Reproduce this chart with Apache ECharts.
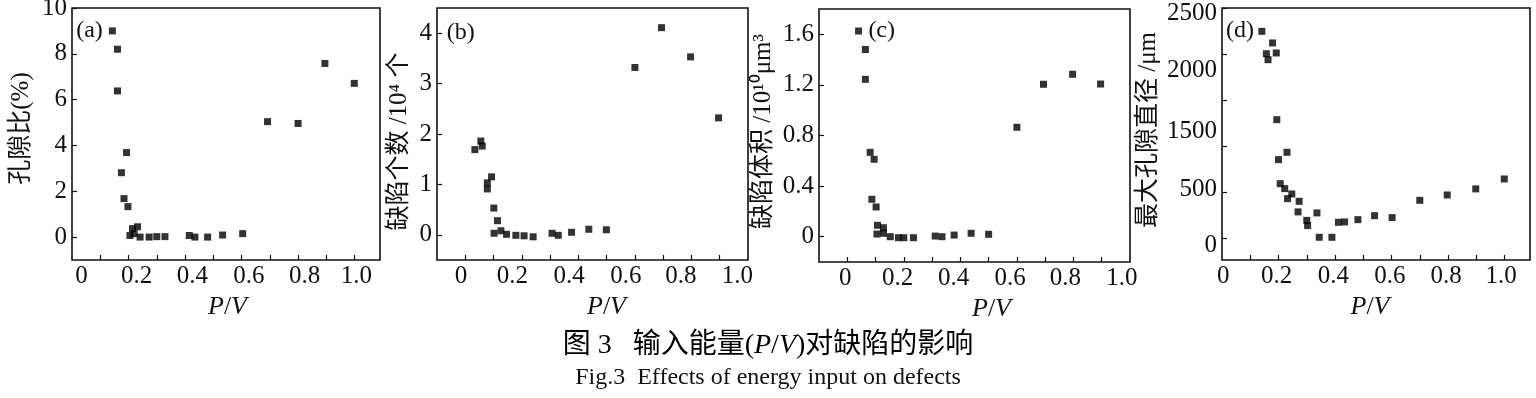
<!DOCTYPE html>
<html>
<head>
<meta charset="utf-8">
<title>Fig.3</title>
<script src="https://cdn.jsdelivr.net/npm/echarts@6/dist/echarts.min.js"></script>
<style>
html, body { margin: 0; padding: 0; background: #fff; }
#chart { width: 1536px; height: 398px; }
</style>
</head>
<body>
<div id="chart"></div>
<script>
// (a) 孔隙比
var pvA = [0.143, 0.161, 0.161, 0.193, 0.175, 0.184, 0.198, 0.205, 0.214, 0.22, 0.232, 0.241,
  0.273, 0.30, 0.329, 0.415, 0.435, 0.48, 0.533, 0.604, 0.692, 0.80, 0.895, 0.999]
var porosity = [9.0, 8.2, 6.38, 3.69, 2.81, 1.68, 1.33, 0.07, 0.37, 0.15, 0.45, 0.0,
  0.0, 0.02, 0.02, 0.07, 0.0, 0.0, 0.09, 0.15, 5.04, 4.96, 7.58, 6.71]

// (b) 缺陷个数 (10^4)
var pvB = [0.034, 0.055, 0.06, 0.078, 0.078, 0.093, 0.101, 0.114, 0.102, 0.126, 0.146, 0.179,
  0.208, 0.24, 0.307, 0.329, 0.376, 0.437, 0.499, 0.60, 0.694, 0.797, 0.896]
var defectCount = [1.69, 1.86, 1.76, 1.03, 0.91, 1.15, 0.53, 0.28, 0.03, 0.08, 0.01, -0.01,
  -0.02, -0.04, 0.03, -0.01, 0.05, 0.11, 0.10, 3.32, 4.11, 3.53, 2.32]

// (c) 缺陷体积 (10^10 um^3)
var pvC = [0.04, 0.064, 0.064, 0.081, 0.095, 0.087, 0.102, 0.107, 0.105, 0.128, 0.128, 0.152,
  0.181, 0.20, 0.234, 0.311, 0.335, 0.378, 0.438, 0.50, 0.60, 0.694, 0.797, 0.896]
var defectVolume = [1.626, 1.48, 1.244, 0.667, 0.612, 0.296, 0.235, 0.09, 0.021, 0.071, 0.027, 0.0,
  -0.008, -0.008, -0.008, 0.005, 0.0, 0.013, 0.027, 0.019, 0.865, 1.205, 1.284, 1.207]

// (d) 最大孔隙直径 (um)
var pvD = [0.141, 0.157, 0.163, 0.179, 0.192, 0.194, 0.20, 0.23, 0.206, 0.222, 0.232, 0.247, 0.273, 0.269,
  0.30, 0.303, 0.336, 0.344, 0.389, 0.412, 0.434, 0.481, 0.54, 0.602, 0.70, 0.797, 0.898, 0.999]
var maxPore = [2246, 2003, 1938, 2120, 2011, 1286, 851, 931, 590, 536, 427, 478, 398, 283,
  191, 134, 272, 7, 7, 170, 174, 199, 242, 221, 409, 467, 533, 641]

// tick labels
var xTickText = ['0', '0.2', '0.4', '0.6', '0.8', '1.0']
var yTextA = ['0', '2', '4', '6', '8', '10']
var yTextB = ['0', '1', '2', '3', '4']
var yTextC = ['0', '0.4', '0.8', '1.2', '1.6']
var yTextD = ['2500', '2000', '1500', '500', '0']

var serif = "'Liberation Serif', 'Noto Sans CJK SC', serif"
var ink = '#111'

function zip(xs, ys) {
	return xs.map(function(x, i) { return [x, ys[i]] })
}

function pick(texts, at) {
	return function(v, idx) {
		var k = at.indexOf(v)
		return texts[k >= 0 ? k : idx]
	}
}

var panels = [
	{ left: 72, width: 308, top: 8, height: 252, xMin: 0, xMax: 1.09,
	  xTicks: [0.1, 0.2, 0.3, 0.4, 0.5, 0.6, 0.7, 0.8, 0.9, 1.0],
	  xLabelAt: [0.034, 0.229, 0.426, 0.626, 0.823, 1.006], xNamePad: 3,
	  yMin: -1, yMax: 10, yTicks: [0, 2, 4, 6, 8, 10], yLabelAt: [0, 2, 4, 6, 8, 10], yText: yTextA,
	  yName: '孔隙比(%)', yNameGap: 38, yNamePad: [0, 0, 0, 11],
	  tag: '(a)', tagX: 89.5, tagY: 31, xs: pvA, ys: porosity },
	{ left: 437, width: 311, top: 8, height: 252, xMin: -0.1, xMax: 1.0,
	  xTicks: [0, 0.1, 0.2, 0.3, 0.4, 0.5, 0.6, 0.7, 0.8, 0.9],
	  xLabelAt: [-0.015, 0.167, 0.367, 0.568, 0.763, 0.962], xNamePad: 28,
	  yMin: -0.5, yMax: 4.5, yTicks: [0, 1, 2, 3, 4], yLabelAt: [0, 1, 2, 3, 4], yText: yTextB,
	  yName: '缺陷个数 /10⁴ 个', yNameGap: 25, yNamePad: [0, 15, 0, 0],
	  tag: '(b)', tagX: 460.7, tagY: 32.5, xs: pvB, ys: defectCount },
	{ left: 819, width: 311, top: 9, height: 253, xMin: -0.1, xMax: 1.0,
	  xTicks: [0, 0.1, 0.2, 0.3, 0.4, 0.5, 0.6, 0.7, 0.8, 0.9],
	  xLabelAt: [-0.007, 0.178, 0.376, 0.576, 0.771, 0.971], xNamePad: 34,
	  yMin: -0.2, yMax: 1.8, yTicks: [0, 0.4, 0.8, 1.2, 1.6], yLabelAt: [0, 0.4, 0.8, 1.2, 1.6], yText: yTextC,
	  yName: '缺陷体积 /10¹⁰μm³', yNameGap: 43, yNamePad: [0, 0, 0, 8],
	  tag: '(c)', tagX: 881.7, tagY: 31, xs: pvC, ys: defectVolume },
	{ left: 1222, width: 308, top: 8, height: 252, xMin: 0, xMax: 1.09,
	  xTicks: [0.1, 0.2, 0.3, 0.4, 0.5, 0.6, 0.7, 0.8, 0.9, 1.0],
	  xLabelAt: [0.004, 0.193, 0.394, 0.594, 0.793, 0.988], xNamePad: -12,
	  yMin: -240, yMax: 2500, yTicks: [0, 500, 1000, 1500, 2000, 2500], yLabelAt: [2442, 1818, 1155, 532, -77], yText: yTextD,
	  yName: '最大孔隙直径 /μm', yNameGap: 61, yNamePad: [0, 0, 0, 8],
	  tag: '(d)', tagX: 1240, tagY: 31, xs: pvD, ys: maxPore },
]

var grids = [], xAxes = [], yAxes = [], series = [], graphics = []

panels.forEach(function(p, i) {
	grids.push({
		left: p.left, top: p.top, width: p.width, height: p.height,
		show: true, borderColor: ink, borderWidth: 1.6, backgroundColor: 'transparent',
		outerBoundsMode: 'none',
	})
	xAxes.push({
		gridIndex: i,
		type: 'value',
		position: 'bottom',
		min: p.xMin,
		max: p.xMax,
		axisLine: { show: false, onZero: false },
		axisTick: { inside: true, length: 5, customValues: p.xTicks, lineStyle: { color: ink, width: 1.2 } },
		axisLabel: {
			customValues: p.xLabelAt,
			formatter: pick(xTickText, p.xLabelAt),
			margin: 4,
			color: ink,
			fontFamily: serif,
			fontSize: 25,
		},
		splitLine: { show: false },
		name: '{i|P}/{i|V}',
		nameLocation: 'middle',
		nameGap: 33,
		nameTextStyle: {
			color: ink,
			fontFamily: serif,
			fontSize: 26,
			padding: p.xNamePad >= 0 ? [0, 0, 0, p.xNamePad] : [0, -p.xNamePad, 0, 0],
			rich: { i: { fontFamily: serif, fontStyle: 'italic', fontSize: 26, color: ink } },
		},
	})
	yAxes.push({
		gridIndex: i,
		type: 'value',
		position: 'left',
		min: p.yMin,
		max: p.yMax,
		axisLine: { show: false, onZero: false },
		axisTick: { inside: true, length: 5, customValues: p.yTicks, lineStyle: { color: ink, width: 1.2 } },
		axisLabel: {
			customValues: p.yLabelAt,
			formatter: pick(p.yText, p.yLabelAt),
			margin: 5,
			color: ink,
			fontFamily: serif,
			fontSize: 25,
		},
		splitLine: { show: false },
		name: p.yName,
		nameLocation: 'middle',
		nameRotate: 90,
		nameGap: p.yNameGap,
		nameTextStyle: { color: ink, fontFamily: serif, fontSize: 25, padding: p.yNamePad },
	})
	series.push({
		type: 'scatter',
		xAxisIndex: i,
		yAxisIndex: i,
		symbol: 'rect',
		symbolSize: 7,
		itemStyle: { color: '#000' },
		silent: true,
		data: zip(p.xs, p.ys),
	})
	graphics.push({
		type: 'text',
		x: p.tagX,
		y: p.tagY,
		style: { text: p.tag, fill: ink, font: "24px 'Liberation Serif'", align: 'center', verticalAlign: 'middle' },
	})
})

graphics.push({
	type: 'text',
	x: 768,
	y: 346,
	style: {
		text: '{c|图 3   输入能量(}{i|P}{c|/}{i|V}{c|)对缺陷的影响}',
		align: 'center',
		verticalAlign: 'middle',
		rich: {
			c: { fontFamily: serif, fontSize: 28, color: ink },
			i: { fontFamily: serif, fontStyle: 'italic', fontSize: 28, color: ink },
		},
	},
})
graphics.push({
	type: 'text',
	x: 768,
	y: 378,
	style: { text: 'Fig.3  Effects of energy input on defects', fill: ink, font: "24px 'Liberation Serif'", align: 'center', verticalAlign: 'middle' },
})

var chart = echarts.init(document.getElementById('chart'))
chart.setOption({
	animation: false,
	backgroundColor: '#fff',
	grid: grids,
	xAxis: xAxes,
	yAxis: yAxes,
	series: series,
	graphic: graphics,
})
window.addEventListener('resize', function() { chart.resize() })
</script>
</body>
</html>
